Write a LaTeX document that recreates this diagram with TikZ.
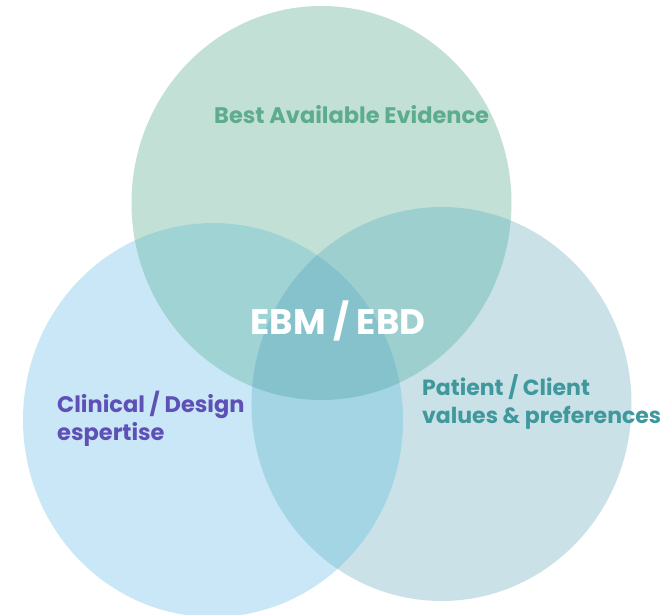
\documentclass[tikz,border=0pt]{standalone}
\usepackage{fontspec}
\setmainfont{Poppins}
\begin{document}
\begin{tikzpicture}[x=1pt,y=-1pt,
  lbl/.style={font=\bfseries\fontsize{22.5}{28}\selectfont,inner sep=0pt,align=left}]
\definecolor{topc}{RGB}{195,224,214}
\definecolor{leftc}{RGB}{201,231,246}
\definecolor{rightc}{RGB}{202,226,231}
\definecolor{tlc}{RGB}{160,212,212}
\definecolor{trc}{RGB}{158,207,207}
\definecolor{lrc}{RGB}{164,213,228}
\definecolor{midc}{RGB}{134,194,203}
\definecolor{evid}{RGB}{92,172,141}
\definecolor{clin}{RGB}{94,80,182}
\definecolor{pat}{RGB}{62,152,156}

\useasboundingbox[fill=white] (0,0) rectangle (670,615);

% the three sets
\def\topset{(321.5,203) ellipse [x radius=190pt, y radius=197pt]}
\def\leftset{(213,420) ellipse [x radius=190pt, y radius=197pt]}
\def\rightset{(441.5,404) ellipse [x radius=190pt, y radius=197pt]}

\fill[topc] \topset;
\fill[leftc] \leftset;
\fill[rightc] \rightset;

% pairwise overlaps
\begin{scope}\clip \topset; \fill[tlc] \leftset; \end{scope}
\begin{scope}\clip \topset; \fill[trc] \rightset; \end{scope}
\begin{scope}\clip \leftset; \fill[lrc] \rightset; \end{scope}
% common core
\begin{scope}\clip \topset; \clip \leftset; \fill[midc] \rightset; \end{scope}

% labels
\node[lbl,text=evid,anchor=base west] (evidence) at (214,124) {Best Available Evidence};
\node[lbl,text=white,anchor=base,font=\bfseries\fontsize{35.5}{37}\selectfont] (ebm) at (338,334) {EBM / EBD};
\node[lbl,text=clin,anchor=base west] (clinical) at (57,440) {Clinical / Design\\espertise};
\node[lbl,text=pat,anchor=base west,font=\bfseries\fontsize{22}{27.5}\selectfont] (patient) at (422,423) {Patient / Client\\values \& preferences};
\end{tikzpicture}
\end{document}
